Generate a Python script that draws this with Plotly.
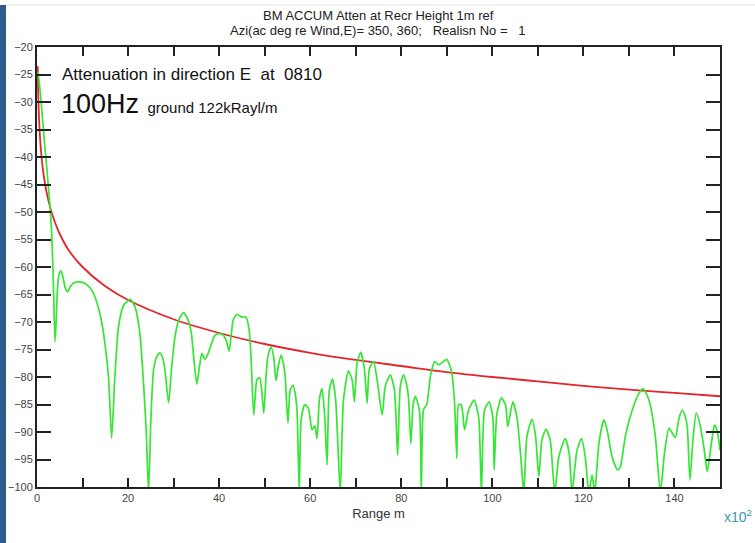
import plotly.graph_objects as go

# Range in units of 100 m
red_range = [0.15, 0.3, 0.5, 0.75, 1, 1.5, 2, 3, 4, 5, 7, 10, 15, 20, 30, 40,
             50, 60, 70, 80, 90, 100, 110, 120, 130, 140, 150]
red_atten = [-23.5, -29.5, -34.0, -37.5, -40.0, -43.5, -46.0, -49.5, -52.0, -54.0,
             -57.0, -60.0, -63.5, -66.0, -69.5, -72.0, -74.0, -75.6, -76.9, -78.0,
             -79.1, -80.0, -80.8, -81.6, -82.3, -82.9, -83.5]

green_range = [
    0.2, 0.5, 0.9, 1.3, 1.7, 2.1, 2.5, 2.9, 3.2, 3.45, 3.7, 3.95, 4.2, 4.5, 4.85,
    5.27, 5.7, 6.2, 6.74, 7.3, 8.0, 9.0, 10.0, 10.9, 12.0, 13.1, 14.2, 14.9, 15.7,
    16.4, 17.1, 17.9, 19.0, 20.4, 21.4, 21.9, 22.7, 23.4, 24.0, 24.5, 25.0, 25.6,
    26.3, 27.0, 27.6, 28.1, 28.9, 29.6, 30.3, 31.2, 32.2, 33.3, 33.9, 34.4, 35.1,
    35.7, 36.2, 36.9, 37.6, 38.3, 39.1, 40.0, 40.9, 41.6, 42.2, 42.7, 43.1, 43.9,
    45.0, 45.9, 46.6, 47.0, 47.6, 48.3, 48.9, 49.3, 49.8, 50.3, 50.7, 51.4, 52.0,
    52.5, 53.0, 53.6, 54.1, 54.5, 55.1, 55.6, 56.2, 56.7, 57.1, 57.6, 58.0, 58.8,
    59.6, 60.4, 61.0, 61.5, 62.0, 62.6, 63.2, 63.7, 64.2, 64.9, 65.6, 66.6, 67.3,
    68.4, 69.2, 69.7, 70.3, 71.1, 71.9, 72.5, 73.0, 73.9, 74.8, 75.8, 76.5, 77.6,
    78.5, 79.2, 79.8, 80.5, 81.2, 81.6, 82.1, 82.6, 83.1, 84.0, 84.4, 84.9, 85.6,
    86.4, 87.3, 88.2, 89.1, 90.0, 90.6, 91.1, 91.7, 92.2, 92.6, 93.2, 93.9, 94.8,
    96.0, 97.0, 97.6, 98.3, 99.3, 100.1, 100.4, 101.0, 102.0, 102.9, 103.4, 104.5,
    105.4, 106.2, 106.9, 107.6, 108.7, 109.5, 110.2, 110.9, 111.8, 112.7, 113.7,
    114.6, 116.0, 116.9, 117.5, 118.6, 119.6, 120.4, 121.2, 121.9, 122.5, 123.4,
    124.5, 125.2, 126.3, 127.5, 128.1, 129.2, 130.3, 131.8, 133.1, 134.4, 135.8,
    136.9, 137.8, 138.8, 139.5, 140.2, 141.0, 141.7, 142.3, 142.8, 143.4, 144.1,
    144.8, 145.7, 146.5, 147.2, 148.1, 148.8, 149.4, 150.0]
green_atten = [
    -24.5, -26.5, -30.0, -34.0, -38.0, -41.5, -45.4, -49.5, -53.5, -59.0, -66.5,
    -73.6, -70.0, -64.0, -61.3, -60.7, -61.8, -63.8, -64.5, -63.6, -62.9, -62.7,
    -62.8, -63.2, -64.2, -66.3, -70.0, -73.8, -80.0, -91.1, -80.0, -70.9, -67.0,
    -65.9, -67.0, -68.4, -73.0, -81.2, -90.0, -101.0, -88.0, -78.7, -76.3, -75.6,
    -76.5, -78.7, -84.7, -78.0, -72.7, -69.5, -68.3, -69.9, -72.0, -76.3, -81.3,
    -78.0, -75.7, -76.8, -75.7, -74.0, -72.4, -72.1, -72.4, -73.5, -75.3, -72.0,
    -69.6, -68.6, -69.1, -69.1, -71.5, -76.3, -86.9, -80.5, -80.1, -82.0, -86.6,
    -80.0, -76.3, -74.5, -76.5, -80.7, -78.0, -76.0, -77.5, -79.9, -88.4, -82.4,
    -81.5, -83.0, -86.0, -101.0, -87.8, -85.0, -85.7, -89.6, -88.9, -91.2, -84.2,
    -82.1, -87.3, -96.0, -82.4, -80.4, -84.2, -101.0, -84.2, -78.9, -80.5, -84.5,
    -77.5, -75.5, -78.5, -84.8, -78.5, -77.2, -81.1, -86.9, -81.6, -79.6, -82.4,
    -94.2, -81.6, -79.6, -81.5, -83.9, -92.1, -85.0, -83.5, -86.1, -101.0, -85.9,
    -85.0, -79.9, -77.2, -77.8, -77.3, -76.8, -77.8, -79.2, -84.6, -94.8, -85.0,
    -85.1, -89.6, -86.0, -84.2, -87.3, -101.0, -86.0, -84.5, -87.3, -96.9, -86.7,
    -83.8, -85.1, -89.0, -84.5, -87.3, -94.0, -101.0, -90.8, -87.7, -90.8, -98.1,
    -91.4, -89.5, -91.4, -101.0, -94.5, -91.2, -94.0, -101.0, -93.3, -91.2, -94.5,
    -101.0, -97.8, -101.0, -92.1, -87.8, -89.6, -94.5, -96.9, -96.4, -90.8, -87.2,
    -83.6, -82.1, -84.2, -90.8, -101.0, -93.9, -89.3, -90.2, -91.0, -87.5, -86.0,
    -87.0, -89.0, -98.7, -91.0, -86.5, -89.0, -93.0, -97.2, -92.1, -88.7, -89.9,
    -93.3]

x_labels = [0, 20, 40, 60, 80, 100, 120, 140]
y_ticks = list(range(-100, -15, 5))

W, H = 755, 543
L, R, T, B = 37, 35, 47, 56
pw = W - L - R
ph = H - T - B
FONT = "Liberation Sans, Arial"


def px(xp):
    """Page pixel x -> paper x."""
    return (xp - L) / pw


def py(yp):
    """Page pixel y -> paper y."""
    return (H - B - yp) / ph


fig = go.Figure()
fig.add_trace(go.Scatter(x=red_range, y=red_atten, mode="lines",
                         line=dict(color="#e3262c", width=1.8, shape="spline"),
                         showlegend=False))
fig.add_trace(go.Scatter(x=green_range, y=green_atten, mode="lines",
                         line=dict(color="#35e635", width=1.7, shape="spline", smoothing=0.6),
                         showlegend=False))

axis_common = dict(showgrid=False, zeroline=False, showline=True, linecolor="#222",
                   linewidth=2, ticks="inside", tickcolor="#222", tickwidth=2,
                   mirror="ticks", automargin=False,
                   tickfont=dict(family=FONT, size=11, color="#444"))

fig.update_xaxes(range=[0, 150], tickvals=x_labels, ticklen=9,
                 minor=dict(dtick=10, tick0=0, ticks="inside", ticklen=9, tickwidth=2,
                            tickcolor="#222", showgrid=False),
                 title=dict(text="Range m", font=dict(family=FONT, size=13, color="#333"),
                            standoff=6),
                 **axis_common)
fig.update_yaxes(range=[-100, -20], tickvals=y_ticks, ticklen=14, ticklabelstandoff=0,
                 **axis_common)

fig.update_layout(
    width=W, height=H,
    margin=dict(l=L, r=R, t=T, b=B),
    paper_bgcolor="white", plot_bgcolor="white",
    shapes=[
        dict(type="rect", xref="paper", yref="paper",
             x0=px(0), x1=px(6), y0=py(H), y1=py(5),
             fillcolor="#2e5a8c", line=dict(width=0), layer="above"),
        dict(type="line", xref="paper", yref="paper",
             x0=px(6), x1=px(W), y0=py(5), y1=py(5),
             line=dict(color="#e6e6e6", width=1)),
    ],
    annotations=[
        dict(text="BM ACCUM Atten at Recr Height 1m ref", xref="paper", yref="paper",
             x=px(378), y=py(16), xanchor="center", yanchor="middle", showarrow=False,
             font=dict(family=FONT, size=13, color="#222")),
        dict(text="Azi(ac deg re Wind,E)= 350, 360;   Realisn No =   1", xref="paper", yref="paper",
             x=px(378), y=py(30), xanchor="center", yanchor="middle", showarrow=False,
             font=dict(family=FONT, size=13, color="#222")),
        dict(text="Attenuation in direction E  at  0810", xref="paper", yref="paper",
             x=px(60), y=py(75), xanchor="left", yanchor="middle",
             showarrow=False, font=dict(family=FONT, size=17, color="#111")),
        dict(text="<span style='font-size:27px'>100Hz</span>  ground 122kRayl/m", xref="paper", yref="paper",
             x=px(59), y=py(104), xanchor="left", yanchor="middle",
             showarrow=False, font=dict(family=FONT, size=15, color="#111")),
        dict(text="x10<sup>2</sup>", xref="paper", yref="paper",
             x=px(722), y=py(516), xanchor="left", yanchor="middle",
             showarrow=False, font=dict(family=FONT, size=14, color="#3a9aa8")),
    ],
)

fig.write_html("out.html")
